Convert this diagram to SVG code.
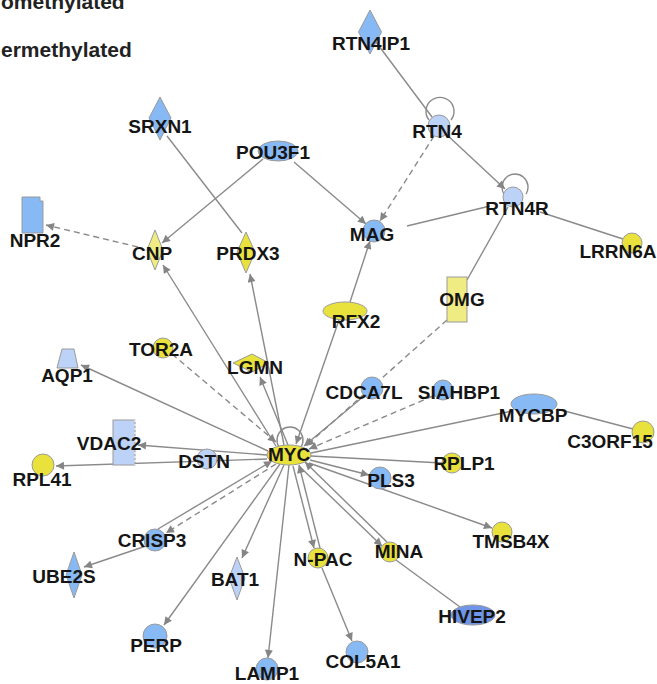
<svg xmlns="http://www.w3.org/2000/svg" width="657" height="684" viewBox="0 0 657 684">
<defs>
<marker id="ah" viewBox="0 0 10 10" refX="10" refY="5" markerWidth="9" markerHeight="8" markerUnits="userSpaceOnUse" orient="auto"><path d="M0,0 L10,5 L0,10 z" fill="#858585"/></marker>
<style>
.e{stroke:#8a8a8a;stroke-width:1.4;fill:none}
.d{stroke-dasharray:6 4}
.a{marker-end:url(#ah)}
.blue{fill:#87b9f5;stroke:#9a9a9a;stroke-width:1}
.lb{fill:#bcd2f7;stroke:#9a9a9a;stroke-width:1}
.db{fill:#6f94e8;stroke:#9a9a9a;stroke-width:1}
.yel{fill:#eae23c;stroke:#9a9a9a;stroke-width:1}
.py{fill:#f0ec84;stroke:#9a9a9a;stroke-width:1}
text{font-family:"Liberation Sans",Arial,sans-serif;font-weight:bold;font-size:19px;fill:#151515;text-anchor:middle}
.lg{font-size:21px;text-anchor:start;fill:#222}
</style>
</defs>
<rect width="657" height="684" fill="#fff"/>
<g id="legend">
<text class="lg" x="1" y="9">omethylated</text>
<text class="lg" x="1" y="57">ermethylated</text>
</g>
<g id="connectors">
<path class="e" d="M376,42 L432,117"/>
<path class="e" d="M429,120 A14,14 0 1 1 451,120"/>
<path class="e" d="M504,194 A13,13 0 1 1 526,194"/>
<path class="e" d="M279,447 A13,13 0 1 1 301,447"/>
<path class="e a" d="M446,134 L505,189"/>
<path class="e d a" d="M434,136 L380,221"/>
<path class="e a" d="M294,162 L366,224"/>
<path class="e" d="M490,206 L407,226"/>
<path class="e" d="M540,212 L623,239"/>
<path class="e" d="M508,207 L467,280"/>
<path class="e d a" d="M447,320 L306,446"/>
<path class="e a" d="M350,302 L370,241"/>
<path class="e a" d="M339,320 L296,444"/>
<path class="e" d="M167,136 L242,233"/>
<path class="e a" d="M263,159 L162,243"/>
<path class="e d a" d="M138,247 L46,225"/>
<path class="e a" d="M276,446 L163,265"/>
<path class="e a" d="M284,445 L250,274"/>
<path class="e a" d="M288,445 L260,377"/>
<path class="e d a" d="M172,354 L276,442"/>
<path class="e a" d="M268,451 L81,365"/>
<path class="e a" d="M267,455 L138,445"/>
<path class="e a" d="M267,459 L56,466"/>
<path class="e a" d="M364,396 L304,446"/>
<path class="e d a" d="M433,396 L309,449"/>
<path class="e" d="M512,411 L311,453"/>
<path class="e" d="M557,409 L633,429"/>
<path class="e" d="M442,463 L311,456"/>
<path class="e a" d="M310,460 L369,475"/>
<path class="e a" d="M309,463 L492,528"/>
<path class="e a" d="M299,466 L382,546"/>
<path class="e a" d="M387,542 L305,462"/>
<path class="e a" d="M293,466 L314,548"/>
<path class="e a" d="M320,548 L299,465"/>
<path class="e a" d="M322,568 L352,641"/>
<path class="e" d="M396,560 L460,607"/>
<path class="e a" d="M289,465 L268,658"/>
<path class="e a" d="M284,465 L242,558"/>
<path class="e a" d="M280,464 L164,625"/>
<path class="e d a" d="M276,464 L166,533"/>
<path class="e a" d="M158,529 L272,461"/>
<path class="e a" d="M146,546 L84,567"/>
</g>
<g id="n-RTN4IP1"><polygon class="blue" points="370,10 381.5,32 370,54 358.5,32"/><text x="371" y="50">RTN4IP1</text></g>
<g id="n-RTN4"><circle class="lb" cx="439" cy="126" r="11"/><text x="437" y="138">RTN4</text></g>
<g id="n-RTN4R"><circle class="lb" cx="513" cy="197" r="10"/><text x="517" y="215">RTN4R</text></g>
<g id="n-MAG"><circle class="blue" cx="374" cy="231" r="11"/><text x="372" y="241">MAG</text></g>
<g id="n-LRRN6A"><circle class="yel" cx="632" cy="243" r="10"/><text x="618" y="258">LRRN6A</text></g>
<g id="n-OMG"><rect class="py" x="447" y="277" width="20" height="45"/><text x="462" y="306">OMG</text></g>
<g id="n-RFX2"><ellipse class="yel" cx="345" cy="311" rx="22" ry="9"/><text x="356" y="328">RFX2</text></g>
<g id="n-POU3F1"><ellipse class="blue" cx="278" cy="151" rx="20" ry="10"/><text x="273" y="159">POU3F1</text></g>
<g id="n-SRXN1"><polygon class="blue" points="160,97 171,118 160,140 149,118"/><text x="160" y="133">SRXN1</text></g>
<g id="n-NPR2"><path class="blue" d="M22,197 H40 V201 H43 V233 H22 Z"/><text x="35" y="247">NPR2</text></g>
<g id="n-CNP"><polygon class="py" points="155,230 163,250 155,270 147,250"/><text x="152" y="260">CNP</text></g>
<g id="n-PRDX3"><polygon class="yel" points="246,232 255,252 246,273 237,252"/><text x="248" y="260">PRDX3</text></g>
<g id="n-TOR2A"><circle class="yel" cx="163" cy="348" r="10"/><text x="161" y="356">TOR2A</text></g>
<g id="n-LGMN"><polygon class="yel" points="233,363 252,354 269,363 252,372"/><text x="255" y="374">LGMN</text></g>
<g id="n-AQP1"><polygon class="lb" points="62,349 74,349 78,368 57,368"/><text x="67" y="382">AQP1</text></g>
<g id="n-VDAC2"><rect class="lb" x="113" y="420" width="22" height="45"/><path d="M135,420 V465" stroke="#fff" stroke-width="1.2" stroke-dasharray="2 2"/><text x="109" y="450">VDAC2</text></g>
<g id="n-RPL41"><circle class="yel" cx="43" cy="465" r="11"/><text x="42" y="486">RPL41</text></g>
<g id="n-DSTN"><circle class="lb" cx="207" cy="459" r="10"/><text x="204" y="468">DSTN</text></g>
<g id="n-MYC"><ellipse class="yel" cx="289" cy="455" rx="22" ry="10"/><text x="289" y="461">MYC</text></g>
<g id="n-CDCA7L"><circle class="blue" cx="372" cy="388" r="11"/><text x="364" y="399">CDCA7L</text></g>
<g id="n-SIAHBP1"><circle class="blue" cx="443" cy="390" r="10"/><text x="459" y="399">SIAHBP1</text></g>
<g id="n-MYCBP"><ellipse class="blue" cx="534" cy="404" rx="23" ry="10"/><text x="533" y="422">MYCBP</text></g>
<g id="n-C3ORF15"><circle class="yel" cx="643" cy="432" r="11"/><text x="610" y="448">C3ORF15</text></g>
<g id="n-RPLP1"><circle class="yel" cx="452" cy="463" r="10"/><text x="464" y="470">RPLP1</text></g>
<g id="n-PLS3"><circle class="blue" cx="380" cy="478" r="11"/><text x="391" y="487">PLS3</text></g>
<g id="n-TMSB4X"><circle class="yel" cx="502" cy="532" r="10"/><text x="511" y="548">TMSB4X</text></g>
<g id="n-MINA"><circle class="yel" cx="390" cy="552" r="10"/><text x="399" y="558">MINA</text></g>
<g id="n-NPAC"><circle class="yel" cx="318" cy="558" r="10"/><text x="323" y="566">N-PAC</text></g>
<g id="n-HIVEP2"><ellipse class="db" cx="473" cy="615" rx="22" ry="10"/><text x="472" y="623">HIVEP2</text></g>
<g id="n-COL5A1"><circle class="blue" cx="357" cy="652" r="11"/><text x="363" y="668">COL5A1</text></g>
<g id="n-LAMP1"><circle class="blue" cx="267" cy="669" r="11"/><text x="267" y="680">LAMP1</text></g>
<g id="n-PERP"><circle class="blue" cx="155" cy="636" r="12"/><text x="156" y="652">PERP</text></g>
<g id="n-BAT1"><polygon class="lb" points="237,557 245,578 237,600 229,578"/><text x="235" y="586">BAT1</text></g>
<g id="n-UBE2S"><polygon class="blue" points="74,552 82,575 74,598 66,575"/><text x="64" y="583">UBE2S</text></g>
<g id="n-CRISP3"><circle class="blue" cx="155" cy="540" r="11"/><text x="152" y="547">CRISP3</text></g>
</svg>
